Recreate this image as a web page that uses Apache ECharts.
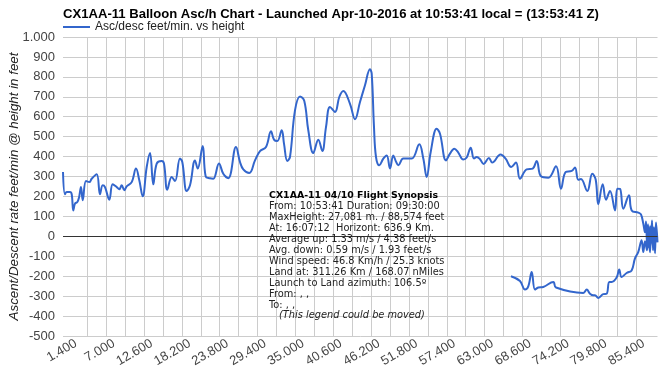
<!DOCTYPE html>
<html>
<head>
<meta charset="utf-8">
<script src="https://cdn.jsdelivr.net/npm/echarts@6/dist/echarts.min.js"></script>
<style>
html,body{margin:0;padding:0;background:#fff;}
#chart{width:672px;height:372px;}
</style>
</head>
<body>
<div id="chart"></div>
<script>
// ---- data (height in feet, ascent/descent rate in feet/min) ----
const heights = [
616,911,1163,1651,1903,2140,2391,2732,2983,3279,3531,4019,4507,4862,5602,6090,6490,6830,7466,7969,
8561,8946,9301,9685,10040,10780,11416,11904,12407,13000,13488,13976,14479,15219,15559,16047,16698,17186,17926,18266,
18917,19405,20145,20544,21284,21728,22364,22852,23695,24332,25072,26211,26803,27291,28179,29022,29762,30650,31390,31834,
32321,32972,33313,33801,34200,34940,35680,36316,36908,37648,38388,38980,39527,40119,40859,41495,42087,43078,43818,44558,
45297,46037,46289,46629,46925,47413,48005,48508,48996,49484,49883,50224,50964,52207,53331,53923,54426,55018,55905,56394,
57282,57873,58509,59057,59839,60343,60935,61423,61823,62295,62842,63626,64114,65357,66097,66926,67637,68229,69220,70108,
70699,71335,72416,73555,74295,74990,75878,76366,76854,77252,78185,78925,79428,79814,80465,80953,81545,82286,82625,83023,
83512,84355,84754,85731,86130,86469,
86727,86875,87023,87171,87319,87467,87615,87763,87911,88059,88207,88355,88574,
88355,88207,88059,87911,87615,87467,87171,87023,86727,86469,
86223,85721,85233,84745,84005,83266,82911,82526,81787,81432,81047,80544,79814,79326,79074,78586,78098,77595,73555,73156,
71676,70936,70448,69960,69457,68969,68229,66897
];
const rates = [
323,211,222,222,211,130,164,172,194,247,181,277,272,289,311,211,256,247,184,261,
247,236,256,231,251,272,340,281,201,348,418,261,365,378,365,234,298,277,390,373,
227,256,381,340,453,300,291,289,365,314,292,448,373,336,318,381,428,448,527,485,
478,532,465,378,398,632,702,679,532,418,485,428,548,649,624,699,729,665,587,674,
758,838,816,548,398,356,390,406,340,406,375,356,390,390,462,390,298,423,540,515,
381,415,440,423,385,395,445,390,398,388,363,393,370,410,390,348,370,289,336,340,
378,301,294,351,239,323,328,345,284,287,227,314,285,161,261,184,228,130,239,238,
139,206,130,119,110,64,
20,75,-40,60,-60,50,-20,80,-70,40,-50,70,-30,
55,-85,45,-55,30,-80,15,-70,-25,-79,
-20,-79,-112,-171,-184,-204,-167,-207,-229,-229,-288,-290,-309,-296,-296,-288,-267,-284,-257,-229,
-254,-257,-267,-179,-251,-267,-224,-200
];
const xGridTicks = [1400,4200,7000,9800,12600,15400,18200,21000,23800,26600,29400,32200,35000,37800,40600,43400,
  46200,49000,51800,54600,57400,60200,63000,65800,68600,71400,74200,77000,79800,82600,85400,88200];
const xLabelTicks = [1400,7000,12600,18200,23800,29400,35000,40600,46200,51800,57400,63000,68600,74200,79800,85400];
const yMin = -500, yMax = 1000, yStep = 100;

const titleText = 'CX1AA-11 Balloon Asc/h Chart - Launched Apr-10-2016 at 10:53:41 local = (13:53:41 Z)';
const seriesName = 'Asc/desc feet/min. vs height';
const yAxisTitle = 'Ascent/Descent rate feet/min @ height in feet';
const synopsisLines = [
  'CX1AA-11 04/10 Flight Synopsis',
  'From: 10:53:41 Duration: 09:30:00',
  'MaxHeight: 27,081 m. / 88,574 feet',
  'At: 16:07:12  Horizont: 636.9 Km.',
  'Average up: 1.33 m/s / 4.38 feet/s',
  'Avg. down: 0.59 m/s / 1.93 feet/s',
  'Wind speed: 46.8 Km/h / 25.3 knots',
  'Land at: 311.26 Km / 168.07 nMiles',
  'Launch to Land azimuth: 106.5º',
  'From: , ,',
  'To: , ,',
  '(This legend could be moved)'
];

// ---- build ----
function dotThousands(v){
  const a = Math.round(Math.abs(v)).toString().replace(/\B(?=(\d{3})+(?!\d))/g, '.');
  return (v < 0 ? '-' : '') + a;
}
const points = heights.map((h, i) => [h, rates[i]]);

const synFont = "'DejaVu Sans',Verdana,sans-serif";
const lastIdx = synopsisLines.length - 1;
const graphics = synopsisLines.map((t, i) => ({
  type: 'text',
  x: i === lastIdx ? 279 : 269,
  y: 196 + i * 10.9,
  silent: true,
  z: 100,
  style: {
    text: t,
    font: (i === 0 ? 'bold 9.4px ' : (i === lastIdx ? 'italic 9.8px ' : '9.8px ')) + synFont,
    fill: i === 0 ? '#000' : '#222',
    verticalAlign: 'middle'
  }
}));

const baseFont = 'Liberation Sans, Arial, sans-serif';
const chart = echarts.init(document.getElementById('chart'), null, {renderer: 'canvas'});
chart.setOption({
  animation: false,
  backgroundColor: '#fff',
  title: {
    text: titleText,
    left: 58, top: 3,
    textStyle: {fontFamily: baseFont, fontSize: 13.1, fontWeight: 'bold', color: '#000'}
  },
  legend: {
    data: [seriesName],
    left: 58, top: 16,
    icon: 'rect', itemWidth: 27, itemHeight: 2,
    textStyle: {fontFamily: baseFont, fontSize: 12, color: '#222'}
  },
  grid: {left: 63, right: 14.5, top: 37, bottom: 36, containLabel: false, outerBoundsMode: 'none'},
  xAxis: {
    type: 'value',
    min: 'dataMin', max: 'dataMax',
    axisLine: {show: false},
    axisTick: {show: false, customValues: xGridTicks},
    splitLine: {show: true, showMinLine: false, showMaxLine: false, lineStyle: {color: '#cccccc', width: 1}},
    axisLabel: {
      customValues: xLabelTicks,
      rotate: 30, margin: 11,
      padding: [0, -9, 0, 0],
      formatter: v => dotThousands(v),
      fontFamily: baseFont, fontSize: 13, color: '#444'
    }
  },
  yAxis: {
    type: 'value',
    min: yMin, max: yMax, interval: yStep,
    name: yAxisTitle, nameLocation: 'middle', nameGap: 42, nameMoveOverlap: false,
    nameTextStyle: {fontFamily: baseFont, fontSize: 13.3, fontStyle: 'italic', color: '#222'},
    axisLine: {show: false}, axisTick: {show: false},
    splitLine: {show: true, lineStyle: {color: '#cccccc', width: 1}},
    axisLabel: {
      margin: 8,
      formatter: v => dotThousands(v),
      fontFamily: baseFont, fontSize: 13, color: '#444'
    }
  },
  graphic: graphics,
  series: [{
    name: seriesName,
    type: 'line',
    data: points,
    smooth: 0.4,
    showSymbol: false,
    color: '#3366cc',
    lineStyle: {width: 2, color: '#3366cc'},
    markLine: {
      silent: true, symbol: 'none', animation: false,
      label: {show: false},
      lineStyle: {color: '#333', width: 1, type: 'solid'},
      data: [{yAxis: 0}]
    }
  }]
});
</script>
</body>
</html>
